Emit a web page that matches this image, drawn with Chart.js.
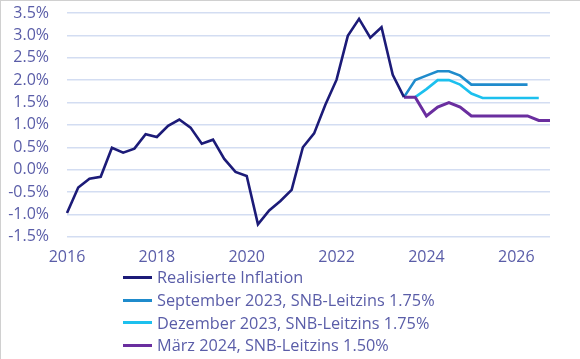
<!DOCTYPE html>
<html>
<head>
<meta charset="utf-8">
<script src="https://cdn.jsdelivr.net/npm/chart.js@4.4.1/dist/chart.umd.min.js"></script>
<style>
  html, body { margin: 0; padding: 0; background: #fff; }
  #wrap { position: relative; width: 580px; height: 359px; box-sizing: border-box;
          border-top: 1px solid #d0d0d0; border-left: 1px solid #d0d0d0; overflow: hidden; }
  #c { position: absolute; left: -1px; top: -1px; }
  #legend { position: absolute; left: 122px; top: 265px; font-family: "Open Sans", sans-serif;
            font-size: 16.3px; color: #5a5da8; }
  .row { height: 22.8px; line-height: 22.8px; display: flex; align-items: center; white-space: nowrap; }
  .sw { display: inline-block; width: 29px; height: 3px; margin-right: 5px; }
</style>
</head>
<body>
<div id="wrap">
  <canvas id="c" width="580" height="359"></canvas>
  <div id="legend"></div>
</div>
<script>
// Quarterly categories (x axis)
const quarters = [];
for (let y = 2016; y <= 2026; y++) for (let q = 1; q <= 4; q++) quarters.push(y + 'Q' + q);

// Realised inflation, from 2016Q1
const realisedStart = '2016Q1';
const realised = [-0.97, -0.40, -0.20, -0.16, 0.49, 0.38, 0.47, 0.79, 0.73, 0.98, 1.12, 0.94,
                  0.58, 0.67, 0.24, -0.05, -0.14, -1.22, -0.91, -0.70, -0.45, 0.50, 0.81, 1.45,
                  2.01, 2.99, 3.37, 2.95, 3.18, 2.12, 1.62];

// SNB conditional forecasts
const sepStart = '2023Q3';
const sep2023 = [1.62, 2.0, 2.1, 2.2, 2.2, 2.1, 1.9, 1.9, 1.9, 1.9, 1.9, 1.9];
const decStart = '2023Q4';
const dec2023 = [1.62, 1.8, 2.0, 2.0, 1.9, 1.7, 1.6, 1.6, 1.6, 1.6, 1.6, 1.6];
const marStart = '2023Q3';
const mar2024 = [1.62, 1.62, 1.2, 1.4, 1.5, 1.4, 1.2, 1.2, 1.2, 1.2, 1.2, 1.2, 1.1, 1.1];

const seriesLabels = ['Realisierte Inflation', 'September 2023, SNB-Leitzins 1.75%',
                      'Dezember 2023, SNB-Leitzins 1.75%', 'März 2024, SNB-Leitzins 1.50%'];
const seriesColors = ['#1c1b78', '#1f8bcc', '#1cc0ee', '#6a2e9f'];

const yTicks = [-1.5, -1.0, -0.5, 0.0, 0.5, 1.0, 1.5, 2.0, 2.5, 3.0, 3.5];
const xTickYears = ['2016', '2018', '2020', '2022', '2024', '2026'];

function toPoints(start, vals) {
  const i0 = quarters.indexOf(start);
  return vals.map((v, k) => ({ x: quarters[i0 + k], y: v }));
}

const textColor = '#5a5da8';
const font = { family: '"Open Sans", sans-serif', size: 16 };

const datasets = [
  [realisedStart, realised], [sepStart, sep2023], [decStart, dec2023], [marStart, mar2024]
].map(([s, v], i) => ({
  label: seriesLabels[i],
  data: toPoints(s, v),
  borderColor: seriesColors[i],
  backgroundColor: seriesColors[i],
  borderWidth: i === 3 ? 3 : 2.6,
  pointRadius: 0,
  tension: 0,
  fill: false,
  order: i === 0 ? 0 : 4 - i
}));

new Chart(document.getElementById('c'), {
  type: 'line',
  data: { labels: quarters, datasets },
  options: {
    responsive: false,
    animation: false,
    devicePixelRatio: 1,
    layout: { padding: { top: 13, right: 30, bottom: 81, left: 0 } },
    plugins: { legend: { display: false }, tooltip: { enabled: false } },
    scales: {
      x: {
        type: 'category',
        offset: false,
        grid: { display: false, drawTicks: false },
        border: { display: false },
        ticks: {
          autoSkip: false, maxRotation: 0, minRotation: 0, padding: 11,
          color: textColor, font,
          callback: function (v, i) {
            const lab = quarters[i];
            const yr = lab.slice(0, 4);
            return (lab.endsWith('Q1') && xTickYears.includes(yr)) ? yr : '';
          }
        }
      },
      y: {
        min: -1.5, max: 3.5,
        afterFit: s => { s.width = 67; },
        afterBuildTicks: s => { s.ticks = yTicks.map(v => ({ value: v })); },
        grid: { color: '#d3ddf2', lineWidth: 1.5, drawTicks: true, tickLength: 18, tickColor: 'rgba(0,0,0,0)' },
        border: { display: false },
        ticks: {
          autoSkip: false,
          padding: 0, color: textColor, font,
          callback: v => v.toFixed(1) + '%'
        }
      }
    }
  }
});

const leg = document.getElementById('legend');
seriesLabels.forEach((l, i) => {
  const r = document.createElement('div');
  r.className = 'row';
  r.innerHTML = '<span class="sw" style="background:' + seriesColors[i] + '"></span><span></span>';
  r.lastChild.textContent = l;
  leg.appendChild(r);
});
</script>
</body>
</html>
